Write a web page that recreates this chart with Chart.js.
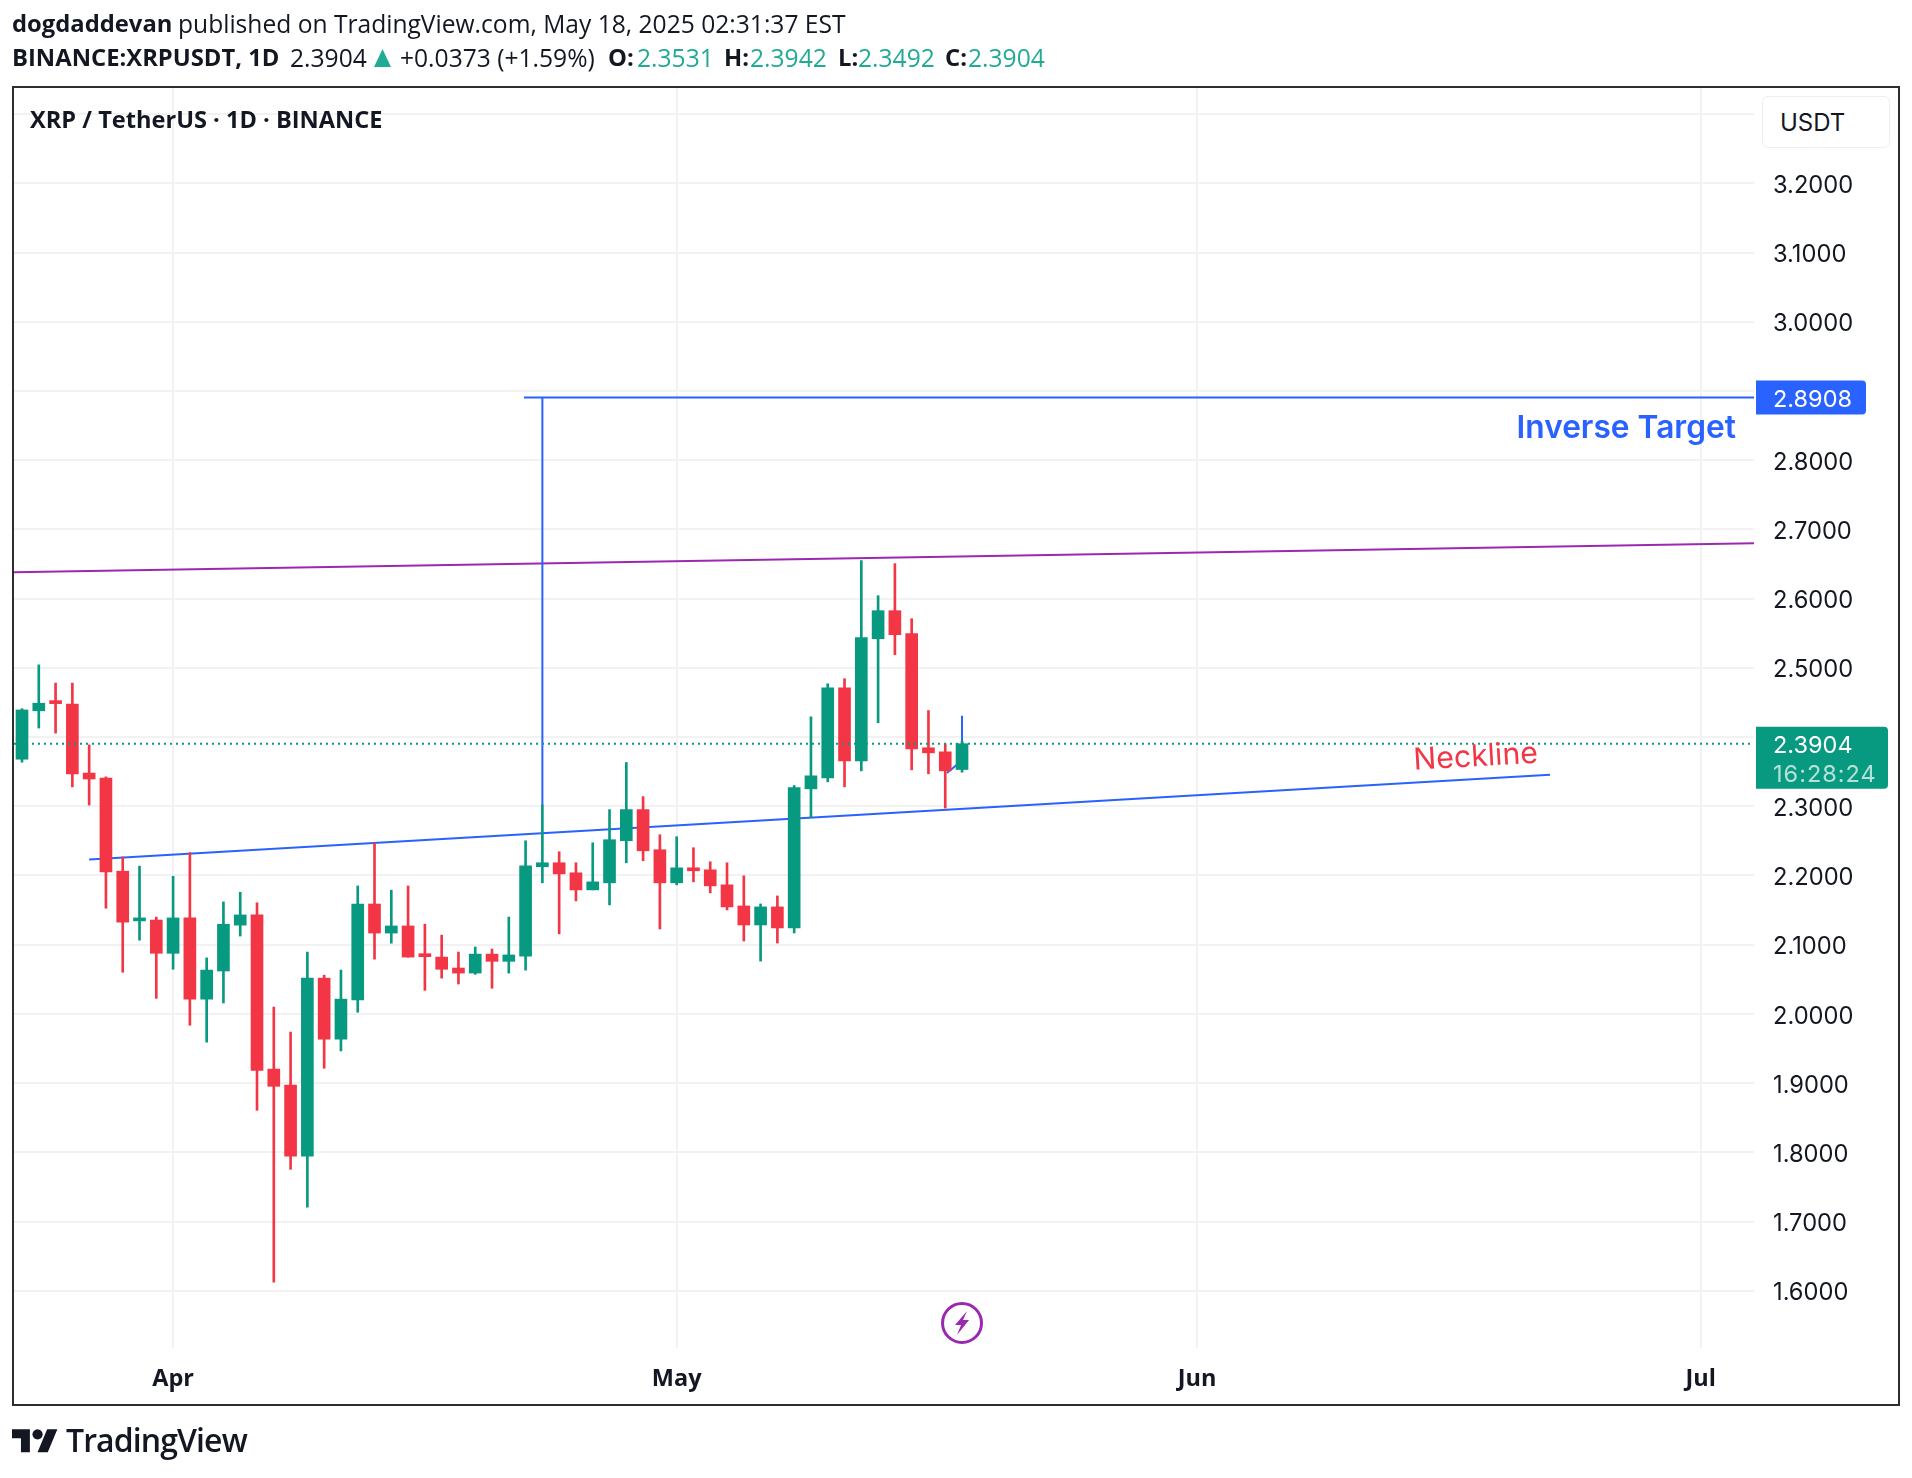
<!DOCTYPE html>
<html>
<head>
<meta charset="utf-8">
<title>XRP / TetherUS</title>
<script src="https://cdn.jsdelivr.net/npm/chart.js@4"></script>
<style>
  html, body { margin: 0; padding: 0; background: #fff; }
  #wrap { position: relative; width: 1912px; height: 1478px; overflow: hidden; color: #131722; font-family: "Open Sans", sans-serif; }
  canvas { position: absolute; left: 0; top: 0; }
  .t { position: absolute; white-space: nowrap; line-height: 1; font-size: 24.6px; }
  .l2 { top: 46px; }
  .up { color: #22ab94; }
  .b { font-weight: 700; font-size: 23.8px; }
  #tri { position: absolute; left: 374px; top: 49px; width: 17px; height: 18px; background: #22ab94; clip-path: polygon(50% 0, 100% 100%, 0 100%); }
  #usdt { position: absolute; left: 1762px; top: 96px; width: 128px; height: 52px; border: 1px solid #eeeeee; border-radius: 6px; box-sizing: border-box; background: #fff; font: 24px Inter, sans-serif; line-height: 51px; padding-left: 17px; color: #131722; }
</style>
</head>
<body>
<div id="wrap">
  <canvas id="chart" width="1912" height="1478"></canvas>
  <div class="t b" style="left:12px;top:12px">dogdaddevan</div>
  <div class="t" style="left:178px;top:12px">published on TradingView.com, May 18, 2025 02:31:37 EST</div>
  <div class="t b l2" style="left:12px">BINANCE:XRPUSDT, 1D</div>
  <div class="t l2" style="left:290px">2.3904</div>
  <div id="tri"></div>
  <div class="t l2" style="left:400px">+0.0373 (+1.59%)</div>
  <div class="t b l2" style="left:608px">O:</div>
  <div class="t l2 up" style="left:637px">2.3531</div>
  <div class="t b l2" style="left:724px">H:</div>
  <div class="t l2 up" style="left:750px">2.3942</div>
  <div class="t b l2" style="left:838px">L:</div>
  <div class="t l2 up" style="left:858px">2.3492</div>
  <div class="t b l2" style="left:945px">C:</div>
  <div class="t l2 up" style="left:968px">2.3904</div>
  <div class="t" style="left:30px;top:108px;font-size:23.6px;font-weight:700">XRP / TetherUS · 1D · BINANCE</div>
  <div id="usdt">USDT</div>
  <svg style="position:absolute;left:12px;top:1424px" width="46" height="36" viewBox="0 0 36 28"><path fill="#131722" d="M14 22H7V11H0V4h14v18zM28 22h-8l7.5-18h8L28 22z"/><circle fill="#131722" cx="20" cy="8" r="4"/></svg>
  <div class="t" style="left:66px;top:1424px;font-size:32px;font-weight:600;letter-spacing:-0.9px">TradingView</div>
</div>
<script>
// one candle per day, index 0 = Mar 23 2025, index 56 = May 18 2025
const opens = [2.368,2.438,2.4507,2.4477,2.348,2.3406,2.2062,2.1344,2.1356,2.0876,2.1387,2.0213,2.062,2.1283,2.143,1.9203,1.8972,1.7944,2.0517,1.9635,2.0201,2.1588,2.1168,2.1271,2.0852,2.0821,2.0663,2.059,2.0864,2.076,2.0836,2.2126,2.2184,2.2039,2.1792,2.1894,2.2502,2.2952,2.2372,2.1894,2.2111,2.2082,2.1865,2.156,2.1285,2.1546,2.1242,2.3252,2.3411,2.4713,2.3657,2.5421,2.5826,2.5494,2.3845,2.3787,2.3531];
const highs = [2.441,2.5043,2.478,2.478,2.3887,2.3425,2.2269,2.2135,2.1399,2.1989,2.233,2.0809,2.1618,2.1758,2.1606,2.0097,1.9738,2.0894,2.056,2.0633,2.1849,2.2476,2.1788,2.1849,2.1296,2.1138,2.0894,2.0967,2.0937,2.1399,2.2502,2.302,2.2343,2.2184,2.2473,2.2952,2.3633,2.314,2.2589,2.256,2.2401,2.2198,2.2184,2.1995,2.1589,2.1705,2.33,2.4293,2.477,2.4843,2.655,2.6043,2.6506,2.5711,2.4383,2.3903,2.3942];
const lows = [2.3637,2.413,2.4057,2.328,2.3017,2.1527,2.0602,2.1065,2.0225,2.0645,1.9836,1.9592,2.0158,2.1125,1.8607,1.6125,1.7755,1.7208,1.9215,1.9465,2.0024,2.0791,2.1022,2.082,2.034,2.0517,2.0432,2.0572,2.0371,2.059,2.0633,2.1894,2.1155,2.1633,2.1792,2.1575,2.2184,2.2213,2.1227,2.1865,2.1908,2.1749,2.1502,2.1053,2.0763,2.1024,2.1169,2.2837,2.3353,2.3281,2.3512,2.4206,2.519,2.3527,2.3469,2.2974,2.3492];
const closes = [2.4392,2.4489,2.4483,2.3467,2.3394,2.205,2.1326,2.1369,2.0876,2.1387,2.0213,2.0633,2.1296,2.143,1.9185,1.8954,1.7944,2.0517,1.9635,2.0213,2.1588,2.1168,2.1271,2.0821,2.0827,2.0645,2.059,2.0864,2.076,2.0852,2.214,2.2184,2.2024,2.1792,2.1908,2.2517,2.2952,2.2357,2.1894,2.2111,2.2068,2.185,2.1546,2.1285,2.1546,2.1242,2.3271,2.344,2.4713,2.3657,2.5436,2.5826,2.5479,2.383,2.3772,2.3512,2.3904];

const monthIdx = [9,39,70,100];
const monthLabels = ['Apr','May','Jun','Jul'];
const priceTicks = [1.6,1.7,1.8,1.9,2.0,2.1,2.2,2.3,2.4,2.5,2.6,2.7,2.8,2.9,3.0,3.1,3.2,3.3];
const hiddenTicks = [2.4,2.9,3.3]; // covered by the tags in the original

const xMin = -0.477, xMax = 103.18;
const lastPrice = 2.3904;
const targetPrice = 2.8908;
const neckline = [{x:4,y:2.2232},{x:91.03,y:2.3454}];
const channel = [{x:xMin,y:2.638},{x:xMax,y:2.68}];
const target = [{x:29.9,y:2.8908},{x:xMax,y:2.8908}];
const targetStem = [{x:31,y:2.8908},{x:31,y:2.302}];
const projection = [{x:55.1,y:2.348},{x:56,y:2.366},{x:56,y:2.4308}];
const priceLine = [{x:xMin,y:lastPrice},{x:xMax,y:lastPrice}];

const GREEN = '#089981', RED = '#f23645', BLUE = '#2962ff', PURPLE = '#9c27b0';
const color = opens.map((o,i) => closes[i] >= o ? GREEN : RED);
const line = (data, c, w, order, dash) => ({ type:'line', data, borderColor:c, borderWidth:w, borderDash:dash||[], pointRadius:0, tension:0, order });

// price tags, texts and frame on top of the chart
const overlay = {
  id: 'overlay',
  afterDraw(chart) {
    const { ctx, scales:{x,y} } = chart;
    ctx.save();
    ctx.strokeStyle = '#2e2e2e'; ctx.lineWidth = 2;
    ctx.strokeRect(13, 87, 1886, 1318);

    const tag = (value, c, h, w) => {
      const py = y.getPixelForValue(value);
      ctx.fillStyle = c;
      ctx.beginPath(); ctx.roundRect(1756, py-17, w, h, [0,4,4,0]); ctx.fill();
    };
    ctx.font = '23.5px Inter'; ctx.textBaseline = 'middle'; ctx.textAlign = 'left';
    tag(targetPrice, BLUE, 34, 110);
    ctx.fillStyle = '#fff';
    ctx.fillText(targetPrice.toFixed(4), 1773, y.getPixelForValue(targetPrice)+3);
    tag(lastPrice, GREEN, 62, 132);
    ctx.fillStyle = '#fff';
    ctx.fillText(lastPrice.toFixed(4), 1773, y.getPixelForValue(lastPrice)+2);
    ctx.fillStyle = 'rgba(255,255,255,0.7)';
    ctx.letterSpacing = '1px';
    ctx.fillText('16:28:24', 1773, y.getPixelForValue(lastPrice)+31);
    ctx.letterSpacing = '0px';

    ctx.fillStyle = BLUE; ctx.font = '600 31.7px Inter'; ctx.textAlign = 'right'; ctx.textBaseline = 'alphabetic';
    ctx.fillText('Inverse Target', 1736, 438);

    ctx.save();
    ctx.translate(x.getPixelForValue(86.6), y.getPixelForValue(2.371));
    ctx.rotate(-3.3*Math.PI/180);
    ctx.fillStyle = RED; ctx.font = '30.3px Inter'; ctx.textAlign = 'center'; ctx.textBaseline = 'middle';
    ctx.fillText('Neckline', 0, 0);
    ctx.restore();

    // bolt marker under the last bar
    const mx = x.getPixelForValue(56), my = 1323;
    ctx.strokeStyle = PURPLE; ctx.lineWidth = 3;
    ctx.beginPath(); ctx.arc(mx, my, 19.5, 0, Math.PI*2); ctx.stroke();
    ctx.fillStyle = PURPLE;
    ctx.beginPath();
    ctx.moveTo(mx+5,my-12); ctx.lineTo(mx-7,my+2); ctx.lineTo(mx-1,my+2); ctx.lineTo(mx-5,my+12);
    ctx.lineTo(mx+7,my-3); ctx.lineTo(mx+1,my-3); ctx.closePath(); ctx.fill();
    ctx.restore();
  }
};

new Chart(document.getElementById('chart'), {
  type: 'bar',
  plugins: [overlay],
  data: {
    datasets: [
      line(priceLine, GREEN, 2, 0, [2,4]),
      { label:'body', data: opens.map((o,i) => ({x:i, y:[o,closes[i]]})), backgroundColor:color, barThickness:12, minBarLength:3, grouped:false, order:1 },
      { label:'wick', data: lows.map((l,i) => ({x:i, y:[l,highs[i]]})), backgroundColor:color, barThickness:2, grouped:false, order:2 },
      line(neckline, BLUE, 2, 3),
      line(target, BLUE, 2, 3),
      line(targetStem, BLUE, 2, 3),
      line(projection, BLUE, 2, 3),
      line(channel, PURPLE, 2, 3)
    ]
  },
  options: {
    responsive: false,
    animation: false,
    devicePixelRatio: 1,
    layout: { autoPadding: false, padding: { left:14, top:88, right:0, bottom:0 } },
    plugins: { legend: { display:false }, tooltip: { enabled:false } },
    scales: {
      x: {
        type: 'linear', offset: false, min: xMin, max: xMax,
        afterBuildTicks: s => { s.ticks = monthIdx.map(v => ({value:v})); },
        afterFit: s => { s.height = 130; },
        border: { display:false },
        grid: { offset:false, color:'#f2f2f2', lineWidth:2, drawTicks:false },
        ticks: { padding:17, autoSkip:false, maxRotation:0, color:'#131722', font:{ family:'"Open Sans"', size:23.5, weight:'700' },
          callback: v => monthLabels[monthIdx.indexOf(v)] }
      },
      y: {
        position: 'right', min: 1.5173, max: 3.3378,
        afterBuildTicks: s => { s.ticks = priceTicks.map(v => ({value:v})); },
        afterFit: s => { s.width = 158; },
        border: { display:false },
        grid: { color:'#f2f2f2', lineWidth:2, drawTicks:false },
        ticks: { padding:19, labelOffset:2.5, crossAlign:'near', autoSkip:false, color:'#131722', font:{ family:'Inter', size:23.7 },
          callback: v => hiddenTicks.includes(v) ? '' : v.toFixed(4) }
      }
    }
  }
});
</script>
</body>
</html>
